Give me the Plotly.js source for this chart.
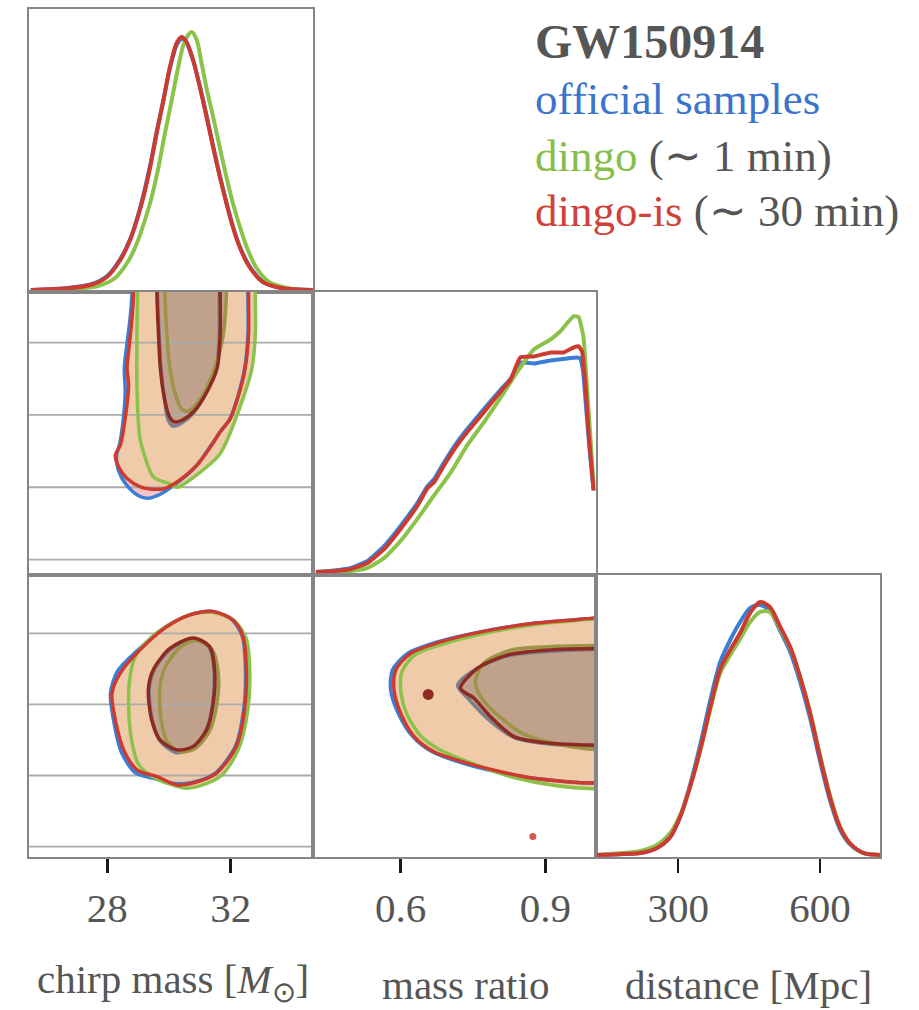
<!DOCTYPE html>
<html><head><meta charset="utf-8">
<script src="https://cdn.plot.ly/plotly-3.0.1.min.js"></script>
<style>html,body{margin:0;padding:0;background:#fff;}#plot{width:919px;height:1010px;}</style>
</head><body><div id="plot"></div>
<script>
// ---------- tick values ----------
const chirpTicks = [28, 32];
const qTicks = [0.6, 0.9];
const distTicks = [300, 600];
const qGrid = [0.45, 0.6, 0.75, 0.9];
const distGrid = [150, 300, 450, 600];

// ---------- 1D: chirp mass ----------
const chirpRedX = [25.52, 26.70, 27.45, 27.99, 28.42, 28.74, 28.96, 29.17, 29.39, 29.60, 29.82, 30.03, 30.25, 30.41, 30.57, 30.78, 31.00, 31.22, 31.43, 31.65, 31.86, 32.07, 32.29, 32.61, 33.04, 33.69, 34.66];
const chirpRedY = [0, 1.7, 5, 13, 30, 50, 70, 93, 123, 157, 190, 223, 247, 253, 248, 230, 203, 173, 143, 113, 87, 63, 43, 23, 8, 1.7, 0];
const chirpBlueX = chirpRedX;
const chirpBlueY = [0, 1.9, 5.5, 14, 31, 51, 71, 95, 125, 158, 190, 222, 245, 251, 247, 230, 204, 174, 144, 114, 88, 64, 44, 24, 8.5, 1.8, 0];
const chirpGreenX = [25.52, 26.90, 27.70, 28.25, 28.70, 29.00, 29.22, 29.44, 29.66, 29.87, 30.09, 30.30, 30.50, 30.73, 30.90, 31.05, 31.23, 31.44, 31.65, 31.87, 32.08, 32.30, 32.52, 32.84, 33.25, 33.90, 34.66];
const chirpGreenY = [0, 1, 4, 12, 30, 50, 70, 93, 123, 157, 190, 223, 248, 258, 250, 228, 200, 172, 142, 112, 86, 63, 43, 22, 8, 1.5, 0];

// ---------- 1D: mass ratio ----------
const qRedX = [0.424, 0.462, 0.497, 0.531, 0.566, 0.600, 0.635, 0.655, 0.669, 0.690, 0.717, 0.738, 0.773, 0.807, 0.828, 0.848, 0.876, 0.911, 0.938, 0.959, 0.969, 0.976, 0.983, 0.990, 1.000];
const qRedY = [0, 1, 3, 9, 23, 43, 66, 83, 89, 106, 126, 139, 159, 179, 191, 213, 214, 218, 218, 223, 224, 219, 186, 136, 81];
const qBlueX = [0.424, 0.462, 0.497, 0.531, 0.566, 0.600, 0.635, 0.655, 0.669, 0.690, 0.717, 0.738, 0.773, 0.807, 0.828, 0.848, 0.876, 0.911, 0.945, 0.965, 0.972, 0.978, 0.985, 0.992, 1.000];
const qBlueY = [0, 1.5, 4, 11, 26, 46, 69, 85, 92, 109, 129, 142, 162, 181, 192, 208, 207, 210, 212, 213, 212, 200, 160, 120, 81];
const qGreenX = [0.424, 0.497, 0.531, 0.566, 0.600, 0.635, 0.669, 0.704, 0.738, 0.773, 0.807, 0.842, 0.876, 0.911, 0.931, 0.945, 0.959, 0.969, 0.979, 0.986, 0.993, 1.000];
const qGreenY = [0, 1, 4, 14, 31, 53, 76, 99, 126, 149, 173, 199, 221, 231, 239, 247, 254, 253, 233, 186, 136, 86];

// ---------- 1D: distance ----------
const distX = [128, 184, 220, 255, 283, 304, 325, 347, 368, 389, 410, 431, 452, 473, 494, 516, 537, 558, 579, 600, 621, 642, 663, 692, 727];
const distRedY = [0, 1, 2, 7, 18, 38, 68, 106, 148, 186, 205, 222, 242, 253, 248, 228, 208, 178, 142, 98, 58, 28, 12, 2, 0];
const distBlueY = [0, 1, 2, 7, 18, 38, 70, 111, 155, 193, 215, 233, 247, 250, 244, 224, 203, 173, 137, 94, 55, 26, 11, 2, 0];
const distGreenY = [0, 2, 4, 10, 22, 40, 68, 105, 146, 182, 200, 216, 233, 243, 243, 226, 207, 178, 143, 100, 60, 29, 12, 2, 0];

// ---------- 2D: chirp mass vs mass ratio (50% / 90% contours) ----------
const cqBlueOutX = [28.82, 28.80, 28.74, 28.64, 28.55, 28.58, 28.52, 28.40, 28.30, 28.36, 28.62, 29.00, 29.30, 29.70, 30.20, 30.88, 31.42, 31.64, 31.97, 32.24, 32.45, 32.56, 32.56, 32.56];
const cqBlueOutY = [1.04, 1.000, 0.951, 0.899, 0.847, 0.800, 0.743, 0.690, 0.667, 0.635, 0.605, 0.583, 0.577, 0.585, 0.606, 0.644, 0.692, 0.713, 0.741, 0.790, 0.845, 0.915, 1.000, 1.04];
const cqRedOutX = [28.85, 28.85, 28.80, 28.72, 28.64, 28.69, 28.58, 28.42, 28.26, 28.37, 28.64, 29.07, 29.50, 29.83, 30.26, 30.91, 31.45, 31.66, 31.99, 32.26, 32.47, 32.58, 32.58, 32.58];
const cqRedOutY = [1.04, 1.000, 0.951, 0.899, 0.847, 0.812, 0.743, 0.687, 0.667, 0.642, 0.618, 0.601, 0.596, 0.597, 0.611, 0.646, 0.694, 0.715, 0.743, 0.792, 0.847, 0.917, 1.000, 1.04];
const cqGreenOutX = [28.98, 28.98, 28.96, 28.96, 29.04, 29.12, 29.50, 29.99, 30.26, 30.80, 31.66, 32.42, 32.69, 32.80, 32.80, 32.80];
const cqGreenOutY = [1.04, 1.000, 0.917, 0.812, 0.710, 0.684, 0.621, 0.608, 0.600, 0.621, 0.670, 0.788, 0.847, 0.917, 1.000, 1.04];
const cqBlueInX = [29.63, 29.63, 29.68, 29.74, 29.84, 29.96, 30.12, 30.40, 30.78, 31.20, 31.53, 31.63, 31.63, 31.63];
const cqBlueInY = [1.04, 1.000, 0.917, 0.847, 0.790, 0.742, 0.727, 0.733, 0.753, 0.796, 0.847, 0.917, 1.000, 1.04];
const cqRedInX = [29.61, 29.61, 29.66, 29.72, 29.83, 29.99, 30.15, 30.42, 30.80, 31.23, 31.56, 31.66, 31.66, 31.66];
const cqRedInY = [1.04, 1.000, 0.917, 0.847, 0.792, 0.750, 0.736, 0.739, 0.757, 0.798, 0.847, 0.917, 1.000, 1.04];
const cqGreenInX = [29.87, 29.87, 29.93, 30.03, 30.19, 30.41, 30.62, 31.00, 31.43, 31.75, 31.86, 31.86];
const cqGreenInY = [1.04, 1.000, 0.917, 0.847, 0.797, 0.762, 0.758, 0.782, 0.838, 0.913, 1.000, 1.04];

// ---------- 2D: chirp mass vs distance ----------
const cdBlueOutX = [31.43, 32.05, 32.38, 32.48, 32.42, 32.15, 31.50, 30.78, 30.20, 29.50, 28.90, 28.45, 28.20, 28.10, 28.33, 29.00, 29.90, 30.68, 31.43];
const cdBlueOutY = [646, 628, 593, 523, 438, 361, 305, 286, 283, 294, 306, 350, 417, 473, 520, 565, 614, 639, 646];
const cdRedOutX = [31.43, 32.07, 32.40, 32.51, 32.45, 32.18, 31.54, 30.78, 30.25, 29.60, 28.96, 28.53, 28.26, 28.15, 28.42, 29.06, 29.93, 30.68, 31.43];
const cdRedOutY = [646, 628, 593, 523, 438, 361, 305, 284, 280, 298, 312, 354, 417, 473, 516, 565, 614, 639, 646];
const cdGreenOutX = [31.43, 32.10, 32.50, 32.62, 32.55, 32.25, 31.70, 31.00, 30.57, 30.10, 29.40, 29.00, 28.80, 28.70, 28.72, 28.90, 29.40, 30.00, 30.70, 31.43];
const cdGreenOutY = [644, 628, 590, 520, 435, 355, 300, 278, 273, 280, 300, 325, 370, 430, 500, 550, 590, 618, 640, 644];
const cdBlueInX = [30.78, 31.30, 31.46, 31.42, 31.20, 30.76, 30.25, 29.72, 29.46, 29.36, 29.52, 30.05, 30.78];
const cdBlueInY = [588, 570, 522, 452, 396, 358, 348, 372, 417, 481, 523, 566, 588];
const cdRedInX = [30.78, 31.32, 31.48, 31.43, 31.22, 30.78, 30.25, 29.71, 29.44, 29.33, 29.49, 30.03, 30.78];
const cdRedInY = [590, 572, 523, 452, 396, 361, 354, 375, 417, 481, 523, 568, 590];
const cdGreenInX = [30.90, 31.40, 31.60, 31.55, 31.30, 30.85, 30.36, 29.95, 29.75, 29.70, 29.85, 30.35, 30.90];
const cdGreenInY = [585, 565, 515, 450, 392, 357, 350, 370, 415, 480, 525, 570, 585];

// ---------- 2D: mass ratio vs distance ----------
const qdBlueOutX = [1.03, 1.0, 0.876, 0.770, 0.680, 0.615, 0.583, 0.579, 0.595, 0.625, 0.665, 0.735, 0.807, 0.876, 0.945, 1.0, 1.03];
const qdBlueOutY = [635, 632, 621, 604, 583, 558, 523, 481, 431, 382, 350, 324, 306, 294, 287, 284, 284];
const qdRedOutX = [1.03, 1.0, 0.876, 0.772, 0.683, 0.621, 0.590, 0.586, 0.600, 0.628, 0.669, 0.738, 0.807, 0.876, 0.945, 1.0, 1.03];
const qdRedOutY = [635, 632, 621, 604, 582, 558, 523, 481, 431, 382, 350, 326, 308, 294, 287, 284, 284];
const qdGreenOutX = [1.03, 1.0, 0.876, 0.775, 0.690, 0.630, 0.603, 0.600, 0.612, 0.640, 0.680, 0.750, 0.820, 0.900, 0.960, 1.0, 1.03];
const qdGreenOutY = [632, 630, 618, 600, 578, 555, 520, 481, 431, 385, 355, 325, 300, 282, 274, 272, 272];
const qdBlueInX = [1.03, 1.0, 0.911, 0.820, 0.755, 0.718, 0.740, 0.780, 0.835, 0.911, 1.0, 1.03];
const qdBlueInY = [566, 566, 562, 552, 524, 490, 462, 420, 380, 366, 362, 362];
const qdRedInX = [1.03, 1.0, 0.911, 0.821, 0.759, 0.724, 0.752, 0.786, 0.835, 0.911, 1.0, 1.03];
const qdRedInY = [568, 568, 565, 554, 526, 484, 463, 424, 382, 368, 364, 364];
const qdGreenInX = [1.03, 1.0, 0.911, 0.830, 0.770, 0.755, 0.770, 0.810, 0.860, 0.930, 1.0, 1.03];
const qdGreenInY = [575, 574, 572, 565, 535, 495, 460, 420, 385, 365, 355, 355];
// small isolated islands of the dingo-is contours
const islandInQ = [0.657], islandInD = [471];
const islandOutQ = [0.874], islandOutD = [171];

// ---------- styling ----------
const BLUE = '#3a7fd5', GREEN = '#8bc34a', RED = '#cc3a30';
const BLUE_IN = '#7a7f8c', GREEN_IN = '#9c9446', RED_IN = '#8e2a22';
const FILL_OUT = '#f0cba9', FILL_PINK = '#f4c5c4', FILL_IN = '#c0a28c';
const GRIDC = '#ababab', FRAME = '#858585', TXT = '#555555';
const FONT = 'Liberation Serif, Times New Roman, serif';

const chirpRange = [25.46, 34.67];
const qRange = [0.418, 1.005];
const distXRange = [126, 727];
const distYRange = [128, 723];

const traces = [];
function fillT(xa, ya, xs, ys, col) {
  traces.push({type:'scatter', mode:'lines', x:xs, y:ys, xaxis:xa, yaxis:ya, fill:'toself', fillcolor:col,
    line:{width:0, shape:'spline', smoothing:0.8, color:col}, hoverinfo:'skip', showlegend:false});
}
function lineT(xa, ya, xs, ys, col, w, sm) {
  traces.push({type:'scatter', mode:'lines', x:xs, y:ys, xaxis:xa, yaxis:ya,
    line:{width:w, color:col, shape:'spline', smoothing:(sm===undefined?0.8:sm)}, hoverinfo:'skip', showlegend:false});
}
function gridT(xa, ya, vals, xr) {
  vals.forEach(v => traces.push({type:'scatter', mode:'lines', x:[xr[0], xr[1]], y:[v, v], xaxis:xa, yaxis:ya,
    line:{width:1.8, color:GRIDC}, hoverinfo:'skip', showlegend:false}));
}

// P11 chirp 1D
lineT('x','y', chirpBlueX, chirpBlueY, BLUE, 4);
lineT('x','y', chirpGreenX, chirpGreenY, GREEN, 4);
lineT('x','y', chirpRedX, chirpRedY, RED, 4);

// P21 chirp vs q
fillT('x2','y2', cqBlueOutX, cqBlueOutY, FILL_PINK);
fillT('x2','y2', cqRedOutX, cqRedOutY, FILL_OUT);
fillT('x2','y2', cqGreenOutX, cqGreenOutY, FILL_OUT);
fillT('x2','y2', cqBlueInX, cqBlueInY, FILL_IN);
fillT('x2','y2', cqRedInX, cqRedInY, FILL_IN);
fillT('x2','y2', cqGreenInX, cqGreenInY, FILL_IN);
gridT('x2','y2', qGrid, chirpRange);
lineT('x2','y2', cqBlueOutX, cqBlueOutY, BLUE, 3.5);
lineT('x2','y2', cqGreenOutX, cqGreenOutY, GREEN, 3.5);
lineT('x2','y2', cqRedOutX, cqRedOutY, RED, 3.5);
lineT('x2','y2', cqBlueInX, cqBlueInY, BLUE_IN, 3.5);
lineT('x2','y2', cqGreenInX, cqGreenInY, GREEN_IN, 3.5);
lineT('x2','y2', cqRedInX, cqRedInY, RED_IN, 3.5);

// P22 q 1D
lineT('x3','y3', qBlueX, qBlueY, BLUE, 4, 0.4);
lineT('x3','y3', qGreenX, qGreenY, GREEN, 4, 0.4);
lineT('x3','y3', qRedX, qRedY, RED, 4, 0.4);

// P31 chirp vs distance
fillT('x4','y4', cdBlueOutX, cdBlueOutY, FILL_PINK);
fillT('x4','y4', cdRedOutX, cdRedOutY, FILL_OUT);
fillT('x4','y4', cdGreenOutX, cdGreenOutY, FILL_OUT);
fillT('x4','y4', cdBlueInX, cdBlueInY, FILL_IN);
fillT('x4','y4', cdRedInX, cdRedInY, FILL_IN);
fillT('x4','y4', cdGreenInX, cdGreenInY, FILL_IN);
gridT('x4','y4', distGrid, chirpRange);
lineT('x4','y4', cdBlueOutX, cdBlueOutY, BLUE, 3.5);
lineT('x4','y4', cdGreenOutX, cdGreenOutY, GREEN, 3.5);
lineT('x4','y4', cdRedOutX, cdRedOutY, RED, 3.5);
lineT('x4','y4', cdBlueInX, cdBlueInY, BLUE_IN, 3.5);
lineT('x4','y4', cdGreenInX, cdGreenInY, GREEN_IN, 3.5);
lineT('x4','y4', cdRedInX, cdRedInY, RED_IN, 3.5);

// P32 q vs distance
fillT('x5','y5', qdBlueOutX, qdBlueOutY, FILL_PINK);
fillT('x5','y5', qdRedOutX, qdRedOutY, FILL_OUT);
fillT('x5','y5', qdGreenOutX, qdGreenOutY, FILL_OUT);
fillT('x5','y5', qdBlueInX, qdBlueInY, FILL_IN);
fillT('x5','y5', qdRedInX, qdRedInY, FILL_IN);
fillT('x5','y5', qdGreenInX, qdGreenInY, FILL_IN);
lineT('x5','y5', qdBlueOutX, qdBlueOutY, BLUE, 3.5);
lineT('x5','y5', qdGreenOutX, qdGreenOutY, GREEN, 3.5);
lineT('x5','y5', qdRedOutX, qdRedOutY, RED, 3.5);
lineT('x5','y5', qdBlueInX, qdBlueInY, BLUE_IN, 3.5);
lineT('x5','y5', qdGreenInX, qdGreenInY, GREEN_IN, 3.5);
lineT('x5','y5', qdRedInX, qdRedInY, RED_IN, 3.5);
traces.push({type:'scatter', mode:'markers', x:islandInQ, y:islandInD, xaxis:'x5', yaxis:'y5',
  marker:{size:11, color:RED_IN}, hoverinfo:'skip', showlegend:false});
traces.push({type:'scatter', mode:'markers', x:islandOutQ, y:islandOutD, xaxis:'x5', yaxis:'y5',
  marker:{size:7, color:'#d45a55'}, hoverinfo:'skip', showlegend:false});

// P33 distance 1D
lineT('x6','y6', distX, distBlueY, BLUE, 4);
lineT('x6','y6', distX, distGreenY, GREEN, 4);
lineT('x6','y6', distX, distRedY, RED, 4);

// ---------- layout ----------
const W = 919, H = 1010;
const cx = (a, b) => [a / W, b / W];
const ry = (top, bot) => [1 - bot / H, 1 - top / H];
const C1 = cx(29, 313), C2 = cx(313, 596), C3 = cx(596, 880);
const R1 = ry(9, 292), R2 = ry(292, 575), R3 = ry(575, 857);

function ax(domain, anchor, range, extra) {
  return Object.assign({domain, anchor, range, showline:true, mirror:true, linecolor:FRAME, linewidth:2,
    zeroline:false, showgrid:false, ticks:'', showticklabels:false, fixedrange:true}, extra || {});
}
const bottomTicks = (vals) => ({tickmode:'array', tickvals:vals, ticks:'outside', ticklen:14, tickwidth:2.5,
  tickcolor:'#1a1a1a', showticklabels:true, tickfont:{family:FONT, size:41, color:TXT}, ticklabelstandoff:0});

const layout = {
  width: W, height: H, margin:{l:0, r:0, t:0, b:0}, paper_bgcolor:'#fff', plot_bgcolor:'#fff', showlegend:false,
  xaxis:  ax(C1, 'y',  chirpRange),
  yaxis:  ax(R1, 'x',  [-2, 281]),
  xaxis2: ax(C1, 'y2', chirpRange),
  yaxis2: ax(R2, 'x2', [qRange[0], qRange[1]]),
  xaxis3: ax(C2, 'y3', qRange),
  yaxis3: ax(R2, 'x3', [-3, 278]),
  xaxis4: ax(C1, 'y4', chirpRange, bottomTicks(chirpTicks)),
  yaxis4: ax(R3, 'x4', distYRange),
  xaxis5: ax(C2, 'y5', qRange, bottomTicks(qTicks)),
  yaxis5: ax(R3, 'x5', distYRange),
  xaxis6: ax(C3, 'y6', distXRange, bottomTicks(distTicks)),
  yaxis6: ax(R3, 'x6', [-2, 280]),
  annotations: [
    {text:'<b>GW150914</b>', x:533/W, y:1-41/H, xref:'paper', yref:'paper', xanchor:'left', yanchor:'middle',
     showarrow:false, font:{family:FONT, size:48, color:TXT}},
    {text:'<span style="color:#3a74cc">official samples</span>', x:533/W, y:1-99/H, xref:'paper', yref:'paper',
     xanchor:'left', yanchor:'middle', showarrow:false, font:{family:FONT, size:45, color:TXT}},
    {text:'<span style="color:#86be4a">dingo</span> (∼ 1 min)', x:533/W, y:1-156/H, xref:'paper', yref:'paper',
     xanchor:'left', yanchor:'middle', showarrow:false, font:{family:FONT, size:45, color:TXT}},
    {text:'<span style="color:#d0413a">dingo-is</span> (∼ 30 min)', x:533/W, y:1-211/H, xref:'paper', yref:'paper',
     xanchor:'left', yanchor:'middle', showarrow:false, font:{family:FONT, size:45, color:TXT}},
    {text:'chirp mass [<i>M</i><sub>⊙</sub>]', x:172.5/W, y:1-982/H, xref:'paper', yref:'paper', xanchor:'center',
     yanchor:'middle', showarrow:false, font:{family:FONT, size:41, color:TXT}},
    {text:'mass ratio', x:466/W, y:1-985/H, xref:'paper', yref:'paper', xanchor:'center',
     yanchor:'middle', showarrow:false, font:{family:FONT, size:41, color:TXT}},
    {text:'distance [Mpc]', x:748/W, y:1-985/H, xref:'paper', yref:'paper', xanchor:'center',
     yanchor:'middle', showarrow:false, font:{family:FONT, size:41, color:TXT}}
  ]
};

Plotly.newPlot('plot', traces, layout, {displayModeBar:false, staticPlot:true});
</script>
</body></html>
